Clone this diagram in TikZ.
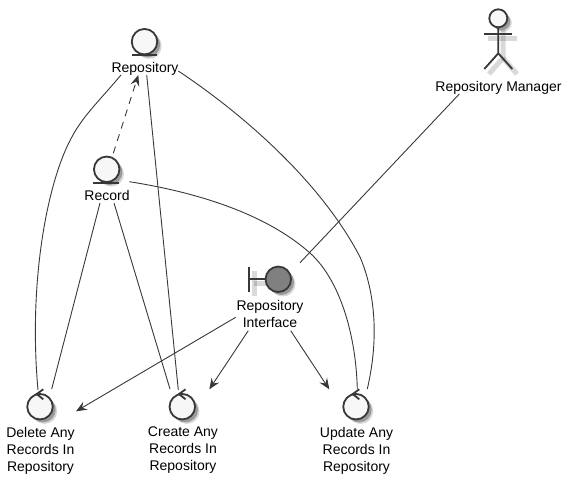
\documentclass[tikz,border=0pt]{standalone}
\usepackage{fontspec}
\setmainfont{Liberation Sans}
\usetikzlibrary{arrows.meta}
\definecolor{inkline}{HTML}{383838}
\tikzset{
	shapecircle/.style={circle, draw=inkline, line width=1.8pt, fill=#1, minimum size=25.5pt, inner sep=0pt},
	caption/.style={align=center, inner sep=0pt, font=\fontsize{14}{17}\selectfont, text=black},
	symbolline/.style={draw=inkline, line width=1.8pt},
	shadowline/.style={draw=black, opacity=0.15, line width=5pt},
	link/.style={draw=inkline, line width=0.9pt},
	linkarrow/.style={link, -{Stealth[length=11pt, width=9pt, inset=4pt]}}
}
\def\controlmark(#1){\draw[symbolline] ([shift={(3.3,-17.4)}]#1.center) -- ([shift={(-3.3,-12.7)}]#1.center) -- ([shift={(3.3,-7.4)}]#1.center);}
\def\castshadow(#1,#2)(#3){
	\fill[black, opacity=0.16] (#1+4.5, #2+4.5) circle (#3);
	\fill[black, opacity=0.28] (#1+3, #2+3) circle (#3);
}
\begin{document}
\begin{tikzpicture}[x=1pt, y=-1pt]
	\useasboundingbox (0, 0) rectangle (573, 484);

	%%%%% ENTITIES %%%%%
	\castshadow(144.5,41.7)(12.7)
	\node[shapecircle=white!97!black] (repository) at (144.5, 41.7) {};
	\draw[symbolline] (131.7, 55) -- (157.3, 55);
	\node[caption] (repositoryText) at (145, 69) {Repository};

	\castshadow(106.7,169.3)(12.7)
	\node[shapecircle=white!97!black] (record) at (106.7, 169.3) {};
	\draw[symbolline] (93.3, 183.3) -- (119.3, 183.3);
	\node[caption] (recordText) at (107, 195) {Record};

	%%%%% ACTOR %%%%%
	\draw[shadowline] (488, 39) -- (517, 39);
	\draw[shadowline] (503, 30) -- (503, 58) -- (489, 74);
	\draw[shadowline] (503, 58) -- (517, 74);
	\castshadow(498.3,18.3)(9)
	\node[shapecircle=white!97!black, minimum size=18pt] (manager) at (498.3, 18.3) {};
	\draw[symbolline] (484.3, 34) -- (512.3, 34);
	\draw[symbolline] (498.3, 27) -- (498.3, 53.3) -- (484.3, 69);
	\draw[symbolline] (498.3, 53.3) -- (512.3, 69);
	\node[caption] (managerText) at (498.5, 87.5) {Repository Manager};

	%%%%% BOUNDARY %%%%%
	\draw[shadowline] (254, 271) -- (254, 296);
	\draw[shadowline] (254, 283.5) -- (268, 283.5);
	\castshadow(278.3,279.3)(12.7)
	\node[shapecircle=black!50] (interface) at (278.3, 279.3) {};
	\draw[symbolline] (249.3, 266.7) -- (249.3, 291.7);
	\draw[symbolline] (248, 279.3) -- (265.6, 279.3);
	\node[caption] (interfaceText) at (270, 313.5) {Repository\\Interface};

	%%%%% CONTROLS %%%%%
	\castshadow(40,406.7)(12.7)
	\node[shapecircle=white!97!black] (deleteAny) at (40, 406.7) {};
	\controlmark(deleteAny)
	\node[caption] (deleteText) at (40.5, 450.5) {Delete Any\\Records In\\Repository};

	\castshadow(182.3,406.7)(12.7)
	\node[shapecircle=white!97!black] (createAny) at (182.3, 406.7) {};
	\controlmark(createAny)
	\node[caption] (createText) at (183, 450.5) {Create Any\\Records In\\Repository};

	\castshadow(356,406.7)(12.7)
	\node[shapecircle=white!97!black] (updateAny) at (356, 406.7) {};
	\controlmark(updateAny)
	\node[caption] (updateText) at (356.5, 450.5) {Update Any\\Records In\\Repository};

	%%%%% LINKS %%%%%
	\draw[link] ([shift={(-23.5, 33.3)}]repository.center) .. controls (100, 100) and (84, 115) .. (73, 135) .. controls (48, 178) and (28, 280) .. ([shift={(-2, -16.7)}]deleteAny.center);
	\draw[link] ([shift={(2.2, 33.3)}]repository.center) -- ([shift={(-4, -16.7)}]createAny.center);
	\draw[link] ([shift={(33.8, 29.3)}]repository.center) .. controls (240, 112) and (320, 180) .. (360, 257) .. controls (372, 285) and (381, 330) .. ([shift={(11.3, -17.7)}]updateAny.center);

	\draw[linkarrow, dash pattern=on 7pt off 6pt] ([shift={(6.6, -16)}]record.center) -- ([shift={(-6.2, 33.3)}]repository.center);
	\draw[link] ([shift={(-6.7, 33.7)}]record.center) -- ([shift={(11.7, -17.7)}]deleteAny.center);
	\draw[link] ([shift={(7.3, 33.7)}]record.center) -- ([shift={(-12.3, -17.7)}]createAny.center);
	\draw[link] ([shift={(22.6, 12.4)}]record.center) .. controls (195, 192) and (265, 213) .. (310, 253) .. controls (340, 280) and (356, 335) .. ([shift={(1.3, -17.7)}]updateAny.center);

	\draw[link] ([shift={(-39, 75.7)}]manager.center) -- ([shift={(21.7, -16.6)}]interface.center);

	\draw[linkarrow] ([shift={(-42.6, 38)}]interface.center) -- ([shift={(36, 4.6)}]deleteAny.center);
	\draw[linkarrow] ([shift={(-30, 51.4)}]interface.center) -- ([shift={(27, -17.4)}]createAny.center);
	\draw[linkarrow] ([shift={(12.4, 51.4)}]interface.center) -- ([shift={(-26.7, -17.4)}]updateAny.center);
\end{tikzpicture}
\end{document}
